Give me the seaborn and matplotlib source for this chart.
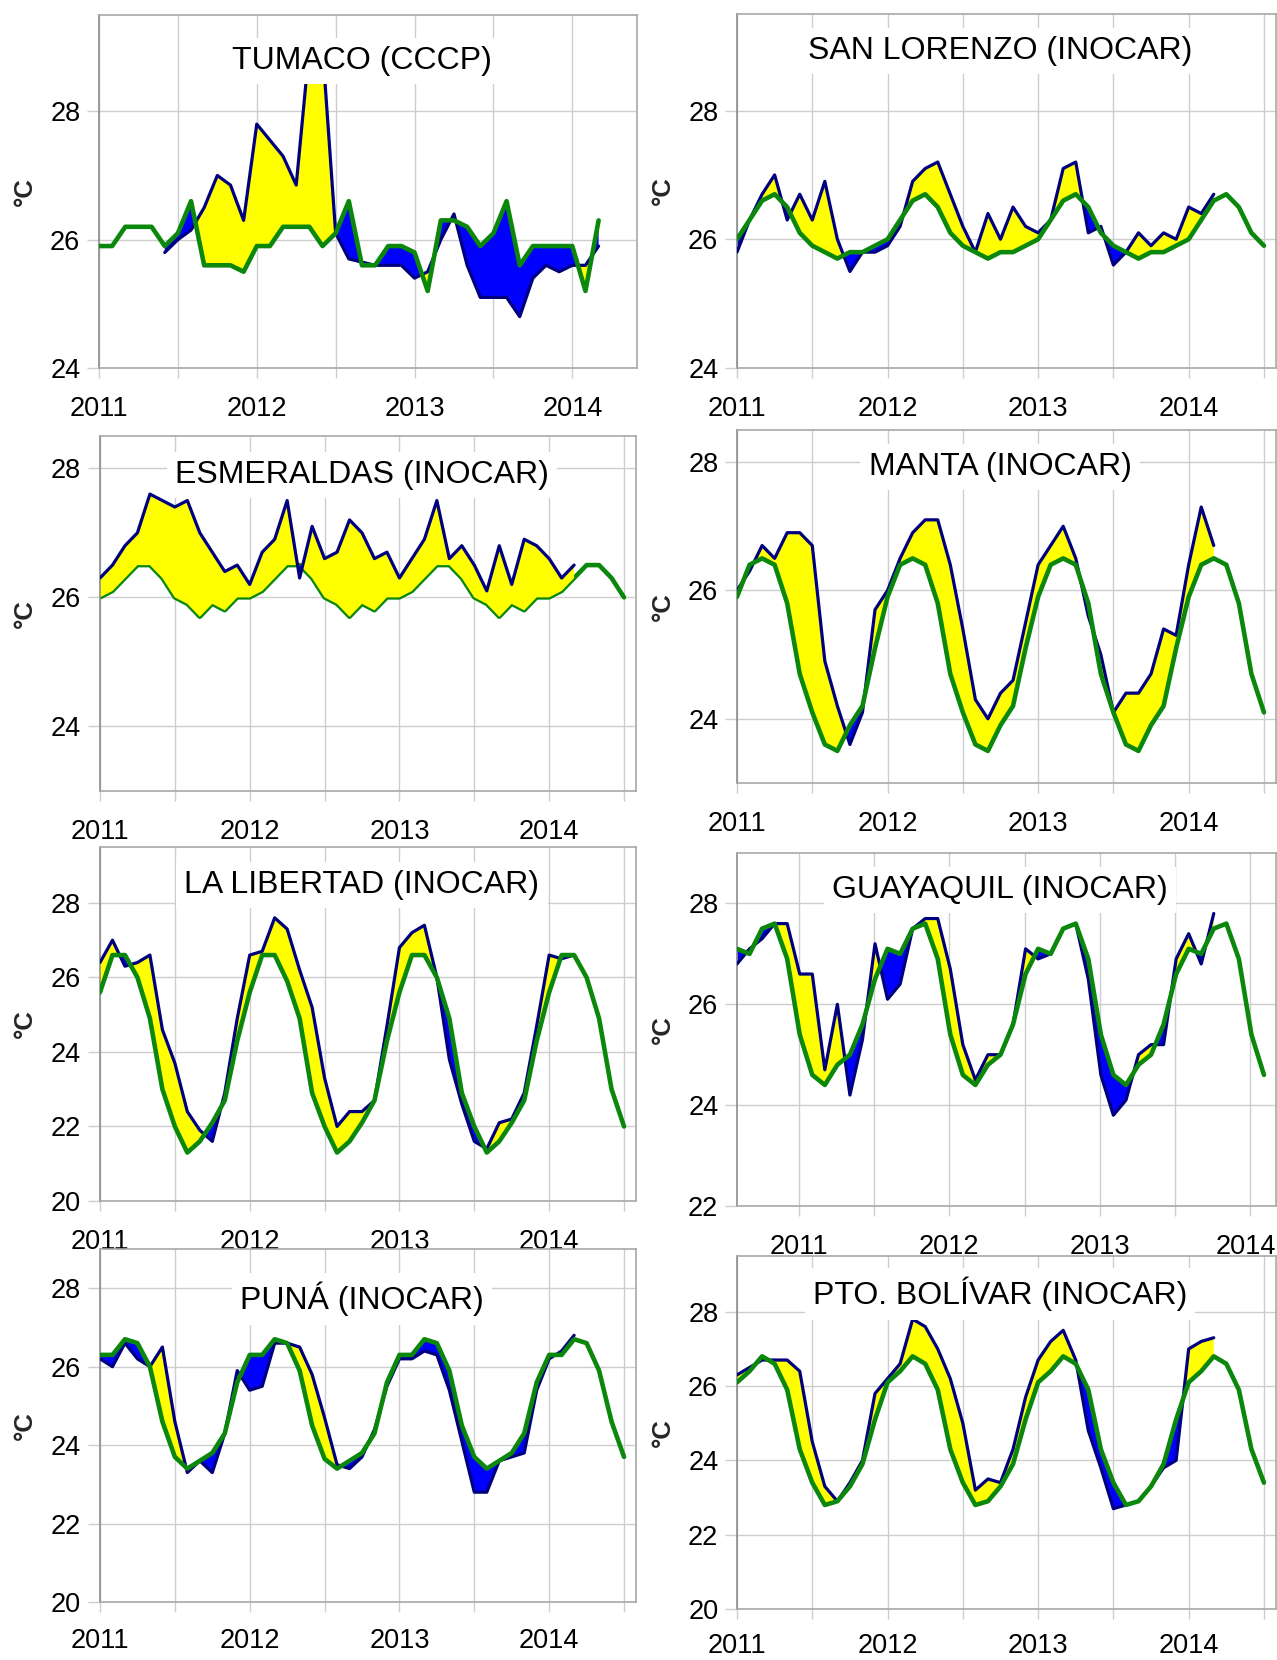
import numpy as np
import pandas as pd
import matplotlib
matplotlib.use("Agg")
import matplotlib.pyplot as plt
import matplotlib.transforms as mtransforms
import seaborn as sns

# ---------------------------------------------------------------------------
# Monthly sea surface temperature (°C), starting January 2011.
# *_clim : climatological reference (green line)
# *_obs  : observed monthly mean (navy line); *_start = month index of first value
# ---------------------------------------------------------------------------
tumaco_clim = [25.9, 25.9, 26.2, 26.2, 26.2, 25.9, 26.1, 26.6, 25.6, 25.6, 25.6, 25.5,
               25.9, 25.9, 26.2, 26.2, 26.2, 25.9, 26.1, 26.6, 25.6, 25.6, 25.9, 25.9,
               25.8, 25.2, 26.3, 26.3, 26.2, 25.9, 26.1, 26.6, 25.6, 25.9, 25.9, 25.9,
               25.9, 25.2, 26.3]
tumaco_obs = [25.8, 26.0, 26.15, 26.5, 27.0, 26.85, 26.3,
              27.8, 27.55, 27.3, 26.85, 29.0, 29.0, 26.1, 25.7, 25.65, 25.6, 25.6, 25.6,
              25.4, 25.5, 26.0, 26.4, 25.6, 25.1, 25.1, 25.1, 24.8, 25.4, 25.6, 25.5,
              25.6, 25.6, 25.9]
tumaco_start = 5

sanlorenzo_clim = [26.0, 26.3, 26.6, 26.7, 26.5, 26.1, 25.9, 25.8, 25.7, 25.8, 25.8, 25.9,
                   26.0, 26.3, 26.6, 26.7, 26.5, 26.1, 25.9, 25.8, 25.7, 25.8, 25.8, 25.9,
                   26.0, 26.3, 26.6, 26.7, 26.5, 26.1, 25.9, 25.8, 25.7, 25.8, 25.8, 25.9,
                   26.0, 26.3, 26.6, 26.7, 26.5, 26.1, 25.9]
sanlorenzo_obs = [25.8, 26.3, 26.7, 27.0, 26.3, 26.7, 26.3, 26.9, 26.0, 25.5, 25.8, 25.8,
                  25.9, 26.2, 26.9, 27.1, 27.2, 26.7, 26.2, 25.8, 26.4, 26.0, 26.5, 26.2,
                  26.1, 26.3, 27.1, 27.2, 26.1, 26.2, 25.6, 25.8, 26.1, 25.9, 26.1, 26.0,
                  26.5, 26.4, 26.7]
sanlorenzo_start = 0

esmeraldas_clim = [26.0, 26.1, 26.3, 26.5, 26.5, 26.3, 26.0, 25.9, 25.7, 25.9, 25.8, 26.0,
                   26.0, 26.1, 26.3, 26.5, 26.5, 26.3, 26.0, 25.9, 25.7, 25.9, 25.8, 26.0,
                   26.0, 26.1, 26.3, 26.5, 26.5, 26.3, 26.0, 25.9, 25.7, 25.9, 25.8, 26.0,
                   26.0, 26.1, 26.3, 26.5, 26.5, 26.3, 26.0]
esmeraldas_obs = [26.3, 26.5, 26.8, 27.0, 27.6, 27.5, 27.4, 27.5, 27.0, 26.7, 26.4, 26.5,
                  26.2, 26.7, 26.9, 27.5, 26.3, 27.1, 26.6, 26.7, 27.2, 27.0, 26.6, 26.7,
                  26.3, 26.6, 26.9, 27.5, 26.6, 26.8, 26.5, 26.1, 26.8, 26.2, 26.9, 26.8,
                  26.6, 26.3, 26.5]
esmeraldas_start = 0

manta_clim = [25.9, 26.4, 26.5, 26.4, 25.8, 24.7, 24.1, 23.6, 23.5, 23.9, 24.2, 25.1,
              25.9, 26.4, 26.5, 26.4, 25.8, 24.7, 24.1, 23.6, 23.5, 23.9, 24.2, 25.1,
              25.9, 26.4, 26.5, 26.4, 25.8, 24.7, 24.1, 23.6, 23.5, 23.9, 24.2, 25.1,
              25.9, 26.4, 26.5, 26.4, 25.8, 24.7, 24.1]
manta_obs = [26.0, 26.3, 26.7, 26.5, 26.9, 26.9, 26.7, 24.9, 24.2, 23.6, 24.1, 25.7,
             26.0, 26.5, 26.9, 27.1, 27.1, 26.4, 25.4, 24.3, 24.0, 24.4, 24.6, 25.5,
             26.4, 26.7, 27.0, 26.5, 25.6, 25.0, 24.1, 24.4, 24.4, 24.7, 25.4, 25.3,
             26.4, 27.3, 26.7]
manta_start = 0

libertad_clim = [25.6, 26.6, 26.6, 26.0, 24.9, 23.0, 22.0, 21.3, 21.6, 22.1, 22.7, 24.3,
                 25.6, 26.6, 26.6, 25.9, 24.9, 22.9, 22.0, 21.3, 21.6, 22.1, 22.7, 24.3,
                 25.6, 26.6, 26.6, 26.0, 24.9, 22.9, 22.0, 21.3, 21.6, 22.1, 22.7, 24.3,
                 25.6, 26.6, 26.6, 26.0, 24.9, 23.0, 22.0]
libertad_obs = [26.4, 27.0, 26.3, 26.4, 26.6, 24.6, 23.7, 22.4, 21.9, 21.6, 22.9, 24.9,
                26.6, 26.7, 27.6, 27.3, 26.2, 25.2, 23.3, 22.0, 22.4, 22.4, 22.7, 24.7,
                26.8, 27.2, 27.4, 26.0, 23.8, 22.6, 21.6, 21.4, 22.1, 22.2, 22.9, 24.7,
                26.6, 26.5, 26.6]
libertad_start = 0

guayaquil_clim = [27.1, 27.0, 27.5, 27.6, 26.9, 25.4, 24.6, 24.4, 24.8, 25.0, 25.6, 26.5,
                  27.1, 27.0, 27.5, 27.6, 26.9, 25.4, 24.6, 24.4, 24.8, 25.0, 25.6, 26.6,
                  27.1, 27.0, 27.5, 27.6, 26.9, 25.4, 24.6, 24.4, 24.8, 25.0, 25.6, 26.6,
                  27.1, 27.0, 27.5, 27.6, 26.9, 25.4, 24.6]
guayaquil_obs = [26.8, 27.1, 27.3, 27.6, 27.6, 26.6, 26.6, 24.7, 26.0, 24.2, 25.3, 27.2,
                 26.1, 26.4, 27.5, 27.7, 27.7, 26.7, 25.2, 24.5, 25.0, 25.0, 25.6, 27.1,
                 26.9, 27.0, 27.5, 27.6, 26.5, 24.6, 23.8, 24.1, 25.0, 25.2, 25.2, 26.9,
                 27.4, 26.8, 27.8]
guayaquil_start = 0

puna_clim = [26.3, 26.3, 26.7, 26.6, 26.0, 24.6, 23.7, 23.4, 23.6, 23.8, 24.3, 25.6,
             26.3, 26.3, 26.7, 26.6, 25.9, 24.5, 23.65, 23.4, 23.6, 23.8, 24.3, 25.6,
             26.3, 26.3, 26.7, 26.6, 25.9, 24.5, 23.7, 23.4, 23.6, 23.8, 24.3, 25.6,
             26.3, 26.3, 26.7, 26.6, 25.9, 24.6, 23.7]
puna_obs = [26.2, 26.0, 26.6, 26.2, 26.0, 26.5, 24.6, 23.3, 23.6, 23.3, 24.3, 25.9,
            25.4, 25.5, 26.6, 26.6, 26.5, 25.8, 24.7, 23.5, 23.4, 23.7, 24.4, 25.5,
            26.2, 26.2, 26.4, 26.3, 25.4, 24.1, 22.8, 22.8, 23.6, 23.7, 23.8, 25.4,
            26.2, 26.4, 26.8]
puna_start = 0

bolivar_clim = [26.1, 26.4, 26.8, 26.6, 25.9, 24.3, 23.4, 22.8, 22.9, 23.3, 23.9, 25.1,
                26.1, 26.4, 26.8, 26.6, 25.9, 24.3, 23.4, 22.8, 22.9, 23.3, 23.9, 25.1,
                26.1, 26.4, 26.8, 26.6, 25.9, 24.3, 23.4, 22.8, 22.9, 23.3, 23.9, 25.1,
                26.1, 26.4, 26.8, 26.6, 25.9, 24.3, 23.4]
bolivar_obs = [26.3, 26.5, 26.7, 26.7, 26.7, 26.4, 24.5, 23.3, 22.9, 23.4, 24.0, 25.8,
               26.2, 26.6, 27.8, 27.6, 27.0, 26.2, 25.0, 23.2, 23.5, 23.4, 24.3, 25.7,
               26.7, 27.2, 27.5, 26.7, 24.8, 23.8, 22.7, 22.8, 22.9, 23.3, 23.8, 24.0,
               27.0, 27.2, 27.3]
bolivar_start = 0

station_names = ["TUMACO (CCCP)", "SAN LORENZO (INOCAR)", "ESMERALDAS (INOCAR)",
                 "MANTA (INOCAR)", "LA LIBERTAD (INOCAR)", "GUAYAQUIL (INOCAR)",
                 "PUNÁ (INOCAR)", "PTO. BOLÍVAR (INOCAR)"]
year_labels = ["2011", "2012", "2013", "2014"]

# ---------------------------------------------------------------------------
W, H = 1277, 1660
DPI = 100

sns.set_style("white")
plt.rcParams["font.family"] = ["Liberation Sans", "DejaVu Sans"]

fig = plt.figure(figsize=(W / DPI, H / DPI), dpi=DPI)

C_GREEN = "#0b870b"
C_NAVY = "#00007f"
C_BLUE = "#0000ff"
C_YELLOW = "#ffff00"
C_GRID = "#cdcdcd"
C_FRAME = "#a8a8a8"
C_LEFT = "#8c8c8c"

# (clim, obs, start, ylim, yticks, xmax, frame box px (L, T, R, B), title offset px,
#  tick shift in years, green drawn under the fill, x label pad)
panels = [
    (tumaco_clim, tumaco_obs, tumaco_start, (24, 29.5), [24, 26, 28], 2014.41,
     (99, 15, 637, 368), 46, 0.0, False, 13),
    (sanlorenzo_clim, sanlorenzo_obs, sanlorenzo_start, (24, 29.5), [24, 26, 28], 2014.58,
     (737, 14, 1276, 368), 37, 0.0, False, 13),
    (esmeraldas_clim, esmeraldas_obs, esmeraldas_start, (23, 28.5), [24, 26, 28], 2014.58,
     (100, 436, 636, 791), 39, 0.0, True, 13),
    (manta_clim, manta_obs, manta_start, (23, 28.5), [24, 26, 28], 2014.58,
     (737, 430, 1276, 783), 37, 0.0, False, 13),
    (libertad_clim, libertad_obs, libertad_start, (20, 29.5), [20, 22, 24, 26, 28], 2014.58,
     (100, 847, 636, 1201), 38, 0.0, False, 13),
    (guayaquil_clim, guayaquil_obs, guayaquil_start, (22, 29), [22, 24, 26, 28], 2014.58,
     (737, 853, 1276, 1206), 37, 0.41, False, 13),
    (puna_clim, puna_obs, puna_start, (20, 29), [20, 22, 24, 26, 28], 2014.58,
     (100, 1249, 636, 1602), 50, 0.0, False, 11),
    (bolivar_clim, bolivar_obs, bolivar_start, (20, 29.5), [20, 22, 24, 26, 28], 2014.58,
     (737, 1256, 1276, 1609), 38, 0.0, False, 10),
]

for name, (clim, obs, start, ylim, yticks, xmax, box, tdy, shift, green_under, xpad) in zip(station_names, panels):
    L, T, R, B = box
    ax = fig.add_axes([L / W, 1 - B / H, (R - L) / W, (B - T) / H])

    clim = np.asarray(clim, dtype=float)
    obs = np.asarray(obs, dtype=float)
    t_clim = 2011 + np.arange(len(clim)) / 12.0
    t_obs = 2011 + (start + np.arange(len(obs))) / 12.0
    ref = clim[start:start + len(obs)]

    # anomaly shading: warm (yellow) / cold (blue)
    ax.fill_between(t_obs, obs, ref, where=obs >= ref, interpolate=True,
                    color=C_YELLOW, lw=0, zorder=2)
    ax.fill_between(t_obs, obs, ref, where=obs <= ref, interpolate=True,
                    color=C_BLUE, lw=0, zorder=2)

    df_obs = pd.DataFrame({"t": t_obs, "sst": obs})
    df_clim = pd.DataFrame({"t": t_clim, "sst": clim})
    sns.lineplot(data=df_obs, x="t", y="sst", ax=ax, color=C_NAVY, lw=2.3,
                 zorder=3, sort=False)
    sns.lineplot(data=df_clim, x="t", y="sst", ax=ax, color=C_GREEN, lw=3.3,
                 zorder=1.5 if green_under else 4, sort=False)

    ax.set_xlim(2011, xmax)
    ax.set_ylim(*ylim)

    # x ticks every half year, labels on the year
    half = np.arange(2010.5 + shift, 2015.01 + shift, 0.5)
    half = half[(half >= 2011 - 1e-6) & (half <= xmax + 1e-6)]
    ax.set_xticks(half)
    labels = []
    for h in half:
        k = round(h - shift - 2011, 3)
        labels.append(year_labels[int(k)] if abs(k - round(k)) < 1e-3 and 0 <= round(k) < 4 else "")
    ax.set_xticklabels(labels)
    ax.set_yticks(yticks)
    ax.set_yticklabels([str(v) for v in yticks])

    ax.set_axisbelow(True)
    ax.grid(True, color=C_GRID, lw=1.0)
    for side, sp in ax.spines.items():
        sp.set_visible(True)
        sp.set_color(C_LEFT if side == "left" else C_FRAME)
        sp.set_linewidth(1.2)
    ax.tick_params(axis="x", length=7.5, width=1.0, color=C_GRID, pad=xpad,
                   labelsize=19.5, labelcolor="black", direction="out", bottom=True)
    ax.tick_params(axis="y", length=8.5, width=1.0, color=C_GRID, pad=5,
                   labelsize=19.5, labelcolor="black", direction="out", left=True)
    ax.set_xlabel("")
    ax.set_ylabel("")

    # keep a year label that sits on the right figure edge inside the canvas
    if R > 1200:
        for lab in ax.get_xticklabels():
            if lab.get_text() and lab.get_position()[0] > xmax - 0.25:
                lab.set_transform(lab.get_transform() +
                                  mtransforms.ScaledTranslation(-5 / DPI, 0, fig.dpi_scale_trans))

    # station title with a white backing box
    cx = 362 if L < 400 else 1000
    ax.text((cx - L) / (R - L), 1 - tdy / (B - T), name, transform=ax.transAxes,
            ha="center", va="center", fontsize=23, color="black", zorder=10,
            bbox=dict(facecolor="white", edgecolor="none", pad=6))

    # unit label
    ux = 25 if L < 400 else 663
    fig.text(ux / W, 1 - ((T + B) / 2) / H, "°C", rotation=90, ha="center",
             va="center", fontsize=18.5, fontweight="bold")

fig.savefig("out.png", dpi=DPI)
